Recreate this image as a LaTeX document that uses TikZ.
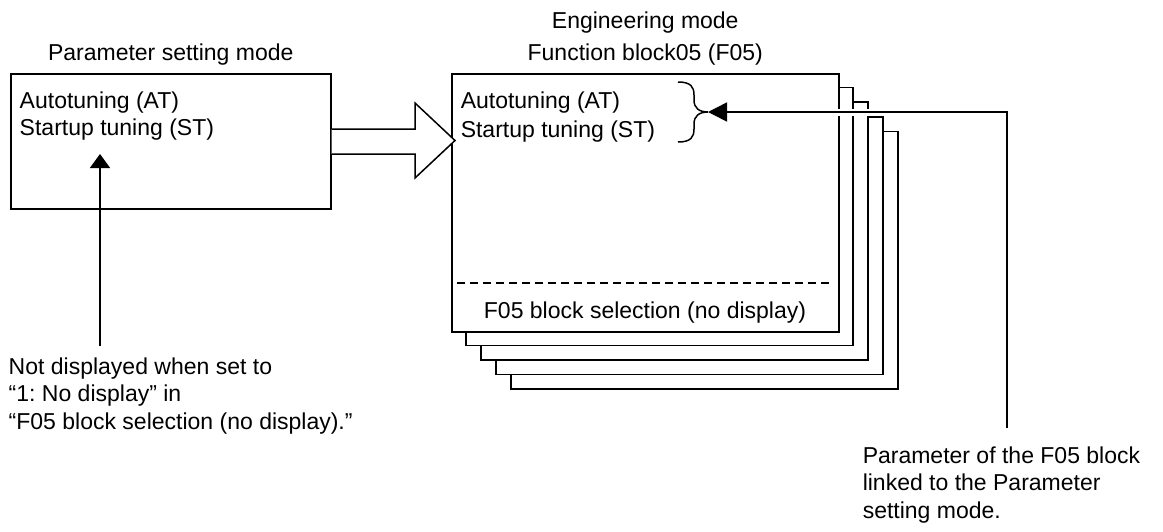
\documentclass[tikz,border=0pt]{standalone}
\usepackage{fontspec}
\setmainfont{Liberation Sans}
\usetikzlibrary{arrows.meta, positioning, calc}
\frenchspacing

\begin{document}
\begin{tikzpicture}[x=1pt, y=-1pt, line width=1.5pt,
    txt/.style={font=\fontsize{23}{27.5}\selectfont, inner sep=0pt},
    modebox/.style={draw, fill=white, anchor=north west, inner sep=0pt},
    tipup/.style={-{Triangle[length=14pt, width=20pt]}},
    tipleft/.style={-{Triangle[length=19pt, width=19pt]}}]
  \useasboundingbox (0,0) rectangle (1163,531);
  % Parameter setting mode
  \node[modebox, minimum width=320pt, minimum height=135pt] (psm) at (10,73) {};
  \node[txt, above=7pt of psm] (psmtitle) {Parameter setting mode};
  \node[txt, anchor=base west] (psmat) at (19,108) {Autotuning (AT)};
  \node[txt, anchor=base west] (psmst) at (19,135) {Startup tuning (ST)};
  % Stacked function blocks behind F05
  \foreach \k in {4,3,2,1}
    \draw[fill=white] ({451+15*\k},{73+14.6*\k}) rectangle ({838+15*\k},{331+14.5*\k});
  % Engineering mode, F05
  \node[modebox, minimum width=387pt, minimum height=258pt] (eng) at (451,73) {};
  \node[txt, above=7pt of eng] (fb05) {Function block05 (F05)};
  \node[txt, above=9pt of fb05] (engm) {Engineering mode};
  \node[txt, anchor=base west] (engat) at (460,108) {Autotuning (AT)};
  \node[txt, anchor=base west] (engst) at (460,137) {Startup tuning (ST)};
  \draw[line width=1.2pt, dash pattern=on 8pt off 5pt] (457,283) -- (830,283);
  \node[txt, anchor=base] (fsel) at (645,318) {F05 block selection (no display)};
  % Block arrow between the modes
  \draw[fill=white, line join=miter] (psm.east |- 0,129) -- (415,129) -- (415,103)
    -- (455,140.5) -- (415,178) -- (415,154) -- (psm.east |- 0,154);
  % Brace on AT / ST
  \coordinate (brtip) at (708,112);
  \draw (678,82) .. controls (691,82) and (694,87) .. (694,95) -- (694,100)
    .. controls (694,108) and (699,112) .. (brtip)
    .. controls (699,112) and (694,116) .. (694,124) -- (694,129)
    .. controls (694,137) and (691,142) .. (678,142);
  % Notes
  \coordinate (stbot) at (100,154);
  \node[txt, anchor=north west, align=left] (note1) at (8,357)
    {Not displayed when set to\\“1: No display” in\\“F05 block selection (no display).”};
  \draw[tipup] ([yshift=11pt]note1.north west -| stbot) -- (stbot);
  \coordinate (bend) at (1007,112);
  \node[txt, anchor=north west, align=left] (note2) at (862,446)
    {Parameter of the F05 block\\linked to the Parameter\\setting mode.};
  \draw[white, line width=7pt] (bend) -- ($(brtip)+(22,0)$);
  \draw[tipleft] ([yshift=18pt]note2.north west -| bend) -- (bend) -- (brtip);
\end{tikzpicture}
\end{document}
